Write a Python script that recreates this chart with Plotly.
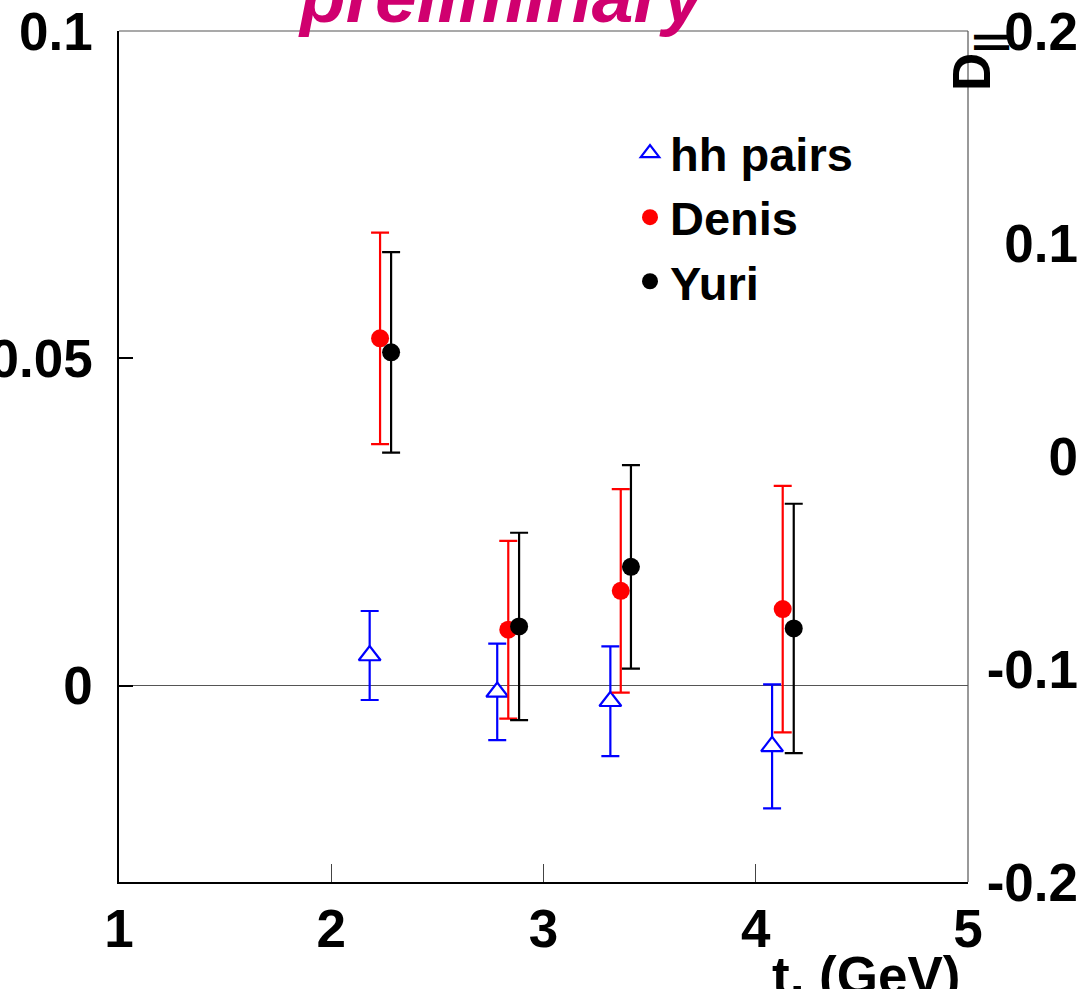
import plotly.graph_objects as go

# ---- data ----
hh_x = [2.181, 2.782, 3.315, 4.077]
hh_y = [0.0046, -0.00097, -0.00239, -0.00928]
hh_err = [0.0068, 0.00737, 0.00838, 0.00947]

denis_x = [2.230, 2.834, 3.364, 4.127]
denis_y = [0.05305, 0.00854, 0.01448, 0.01169]
denis_err = [0.01616, 0.01357, 0.01555, 0.01883]

yuri_x = [2.282, 2.885, 3.412, 4.179]
yuri_y = [0.05091, 0.00904, 0.01814, 0.00873]
yuri_err = [0.01532, 0.01431, 0.01555, 0.01905]

x_ticks = [1, 2, 3, 4, 5]
left_ticks = [0, 0.05, 0.1]
left_ticktext = ["0", "0.05", "0.1"]
right_ticks = [-0.2, -0.1, 0, 0.1, 0.2]
right_ticktext = ["-0.2", "-0.1", "0", "0.1", "0.2"]

FONT = "Liberation Sans, Arial, sans-serif"
W, H = 1083, 989
L, T, B = 119, 31, 107
PW = W - L  # paper width (r margin = 0)
PH = H - T - B
x_dom_end = (968 - L) / PW

fig = go.Figure()

fig.add_trace(go.Scatter(
    x=hh_x, y=hh_y, mode="markers", name="hh pairs",
    marker=dict(symbol="triangle-up", size=19, color="white",
                line=dict(color="#0000FF", width=2.2)),
    error_y=dict(type="data", array=hh_err, color="#0000FF", thickness=2.2, width=9),
))
fig.add_trace(go.Scatter(
    x=denis_x, y=denis_y, mode="markers", name="Denis",
    marker=dict(symbol="circle", size=18, color="#FF0000"),
    error_y=dict(type="data", array=denis_err, color="#FF0000", thickness=2.2, width=9),
))
fig.add_trace(go.Scatter(
    x=yuri_x, y=yuri_y, mode="markers", name="Yuri",
    marker=dict(symbol="circle", size=18, color="#000000"),
    error_y=dict(type="data", array=yuri_err, color="#000000", thickness=2.2, width=9),
))
# invisible trace to keep the right axis alive
fig.add_trace(go.Scatter(x=[None], y=[None], yaxis="y2", showlegend=False, hoverinfo="skip"))

tickfont = dict(family=FONT, size=53, color="black", weight="bold")

fig.update_layout(
    width=W, height=H,
    margin=dict(l=L, r=0, t=T, b=B, pad=0, autoexpand=False),
    paper_bgcolor="white", plot_bgcolor="white",
    showlegend=True,
    legend=dict(
        x=(630 - L) / PW, y=1 - (116 - T) / PH,
        xanchor="left", yanchor="top",
        font=dict(family=FONT, size=47, color="black", weight="bold"),
        bgcolor="rgba(0,0,0,0)", borderwidth=0, tracegroupgap=0,
    ),
    xaxis=dict(
        domain=[0, x_dom_end], range=[1, 5], automargin=False,
        tickvals=x_ticks, ticktext=[str(v) for v in x_ticks],
        ticks="inside", ticklen=18, tickwidth=1, tickcolor="#444",
        showgrid=False, zeroline=False,
        showline=True, linecolor="black", linewidth=1.5,
        tickfont=tickfont, ticklabelstandoff=0,
    ),
    yaxis=dict(
        range=[-0.03, 0.1], automargin=False,
        tickvals=left_ticks, ticktext=left_ticktext,
        ticks="inside", ticklen=14, tickwidth=1.5, tickcolor="black",
        showgrid=False,
        zeroline=True, zerolinecolor="#555", zerolinewidth=1,
        showline=True, linecolor="black", linewidth=1.5,
        tickfont=tickfont, ticklabelstandoff=14,
    ),
    yaxis2=dict(
        overlaying="y", side="left", anchor="free", automargin=False,
        position=(1078 - L) / PW,
        range=[-0.2, 0.2],
        tickvals=right_ticks, ticktext=right_ticktext,
        ticks="", showgrid=False, zeroline=False, showline=False,
        tickfont=tickfont, ticklabelstandoff=0,
    ),
    shapes=[
        dict(type="line", xref="x domain", yref="y domain", x0=0, x1=1, y0=1, y1=1,
             line=dict(color="#555", width=1.2)),
        dict(type="line", xref="x domain", yref="y domain", x0=1, x1=1, y0=0, y1=1,
             line=dict(color="#555", width=1.2)),
    ],
    annotations=[
        dict(text="<i>preliminary</i>", xref="paper", yref="paper",
             x=(296 - L) / PW, y=1 - (40 - T) / PH,
             xanchor="left", yanchor="bottom", showarrow=False,
             font=dict(family=FONT, size=75, color="#D0006F", weight="bold")),
        dict(text="D<sub>||</sub>", xref="paper", yref="paper",
             x=(976 - L) / PW, y=1 - (62 - T) / PH,
             xanchor="center", yanchor="middle", textangle=-90, showarrow=False,
             font=dict(family=FONT, size=53, color="black", weight="bold")),
        dict(text="t, (GeV)", xref="paper", yref="paper",
             x=(962 - L) / PW, y=-(944 - 882) / PH,
             xanchor="right", yanchor="top", showarrow=False,
             font=dict(family=FONT, size=53, color="black", weight="bold")),
    ],
)

fig.write_html("out.html")
